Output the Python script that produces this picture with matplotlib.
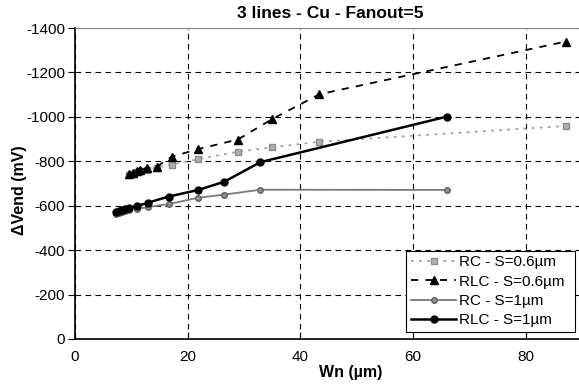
import matplotlib
matplotlib.use("Agg")
import matplotlib.pyplot as plt

plt.rcParams["font.family"] = ["Liberation Sans", "DejaVu Sans"]
plt.rcParams["axes.unicode_minus"] = False

# Wn sweep (um) for each spacing
wn_s06 = [9.6, 10.3, 11.0, 11.6, 12.7, 14.5, 17.2, 21.9, 28.9, 35.0, 43.4, 87.1]
wn_s1 = [7.3, 7.8, 8.3, 8.8, 9.6, 11.0, 13.0, 16.6, 21.9, 26.5, 32.9, 66.0]

# Delta Vend (mV)
rc_s06 = [-738, -744, -751, -757, -762, -772, -785, -810, -843, -863, -888, -959]
rlc_s06 = [-743, -749, -756, -762, -768, -776, -821, -855, -898, -990, -1102, -1339]
rc_s1 = [-563, -568, -572, -576, -580, -586, -594, -607, -636, -650, -672, -671]
rlc_s1 = [-573, -577, -581, -585, -590, -599, -614, -641, -671, -708, -796, -1001]

W, H = 579, 389
fig = plt.figure(figsize=(W / 100, H / 100), dpi=100)
ax = fig.add_axes([75 / W, (H - 339) / H, (582 - 75) / W, (339 - 28) / H])

ax.plot(wn_s06, rc_s06, color="#a0a0a0", linestyle=(0, (1.5, 3)), linewidth=1.3,
        marker="s", markersize=5, markerfacecolor="#b0b0b0", markeredgecolor="#8a8a8a",
        label="RC - S=0.6µm", zorder=3)
ax.plot(wn_s06, rlc_s06, color="black", linestyle=(0, (4, 4)), linewidth=1.3,
        marker="^", markersize=6, label="RLC - S=0.6µm", zorder=4)
ax.plot(wn_s1, rc_s1, color="#7a7a7a", linestyle="-", linewidth=1.3,
        marker="o", markersize=4, markerfacecolor="#909090", markeredgecolor="#606060",
        label="RC - S=1µm", zorder=3)
ax.plot(wn_s1, rlc_s1, color="black", linestyle="-", linewidth=1.8,
        marker="o", markersize=5, label="RLC - S=1µm", zorder=4)

ax.set_xlim(0, 90)
ax.set_ylim(0, -1400)
ax.set_xticks([0, 20, 40, 60, 80])
ax.set_yticks(range(0, -1401, -200))
ax.grid(True, color="black", linestyle=(0, (5, 4)), linewidth=0.8)
ax.set_axisbelow(True)

ax.spines["right"].set_visible(False)
ax.spines["top"].set_color("#888888")
ax.spines["left"].set_linewidth(1.2)
ax.spines["bottom"].set_linewidth(1.2)
ax.tick_params(axis="y", direction="out", length=5, labelsize=11, pad=2)
ax.tick_params(axis="x", direction="in", length=5, labelsize=11, pad=8)

fig.text(330 / W, 1 - 13 / H, "3 lines - Cu - Fanout=5", ha="center", va="center",
         fontsize=12.5, fontweight="bold")
fig.text(351 / W, 1 - 372 / H, "Wn (µm)", ha="center", va="center",
         fontsize=11.5, fontweight="bold")
fig.text(20 / W, 1 - 190 / H, "ΔVend (mV)", ha="center", va="center",
         fontsize=11.5, fontweight="bold", rotation=90)

leg = ax.legend(loc="lower left", bbox_to_anchor=(406 / W, (H - 332) / H, 169 / W, 101 / H),
                bbox_transform=fig.transFigure, mode="expand", fontsize=11,
                fancybox=False, framealpha=1, edgecolor="black", borderaxespad=0,
                handlelength=3.0, labelspacing=0.35, borderpad=0.3, handletextpad=0.2)
leg.get_frame().set_linewidth(0.8)

fig.savefig("out.png", dpi=100)
